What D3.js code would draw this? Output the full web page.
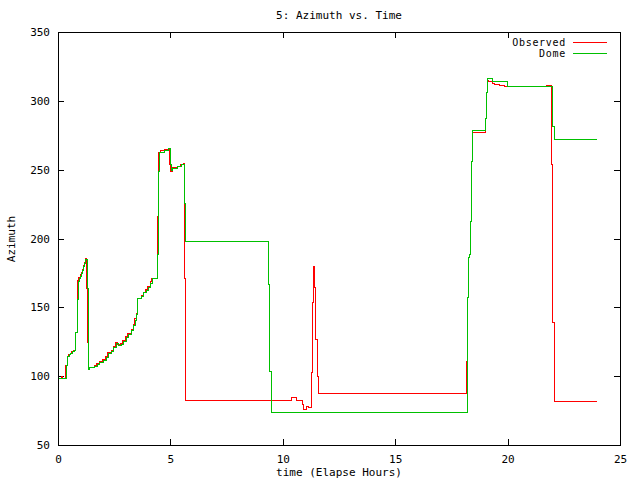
<!DOCTYPE html>
<html lang="en">
<head>
    <meta charset="UTF-8">
    <title>5: Azimuth vs. Time</title>
    <script src="https://d3js.org/d3.v7.min.js"></script>
    <style>
        body { margin: 0; background: #fff; }
        svg text { font-family: "DejaVu Sans Mono", monospace; font-size: 11px; fill: #000; }
        .axis path, .axis line { stroke: #000; shape-rendering: crispEdges; }
        .series { fill: none; stroke-width: 1; shape-rendering: crispEdges; }
        .legend text { font-size: 10px; letter-spacing: 0.7px; }
    </style>
</head>
<body>
    <svg id="chart" width="640" height="480"></svg>

    <script>
        // Observed azimuth: [elapsed hours, degrees]
        const observedSeries = [
            [0.00, 99], [0.13, 100], [0.20, 99], [0.33, 108], [0.40, 115], [0.45, 116], [0.53, 117],
            [0.60, 118], [0.68, 119], [0.75, 132], [0.83, 156], [0.86, 170], [0.91, 172], [0.96, 174],
            [1.01, 176], [1.06, 178], [1.11, 181], [1.16, 183], [1.20, 186], [1.26, 164], [1.31, 125],
            [1.33, 105], [1.38, 107], [1.60, 108], [1.70, 109.5], [1.82, 110.8], [1.97, 112.3],
            [2.10, 114.5], [2.19, 117.5], [2.34, 119.3], [2.44, 121.8], [2.55, 124.8], [2.63, 123.3],
            [2.78, 124], [2.86, 126.5], [3.00, 129], [3.08, 131.3], [3.23, 134.5], [3.33, 138],
            [3.40, 142], [3.45, 146], [3.50, 157], [3.67, 159], [3.78, 161.5], [3.89, 163.5],
            [3.98, 165.8], [4.08, 168.8], [4.15, 171.5], [4.39, 216.4], [4.43, 262.8], [4.55, 264],
            [4.72, 265.1], [4.91, 266], [4.95, 253.8], [4.99, 249], [5.05, 251.9], [5.30, 252.8],
            [5.42, 254.3], [5.55, 255], [5.62, 171], [5.66, 82.8], [10.35, 84.8], [10.57, 82.8],
            [10.87, 79.9], [10.91, 76.3], [11.03, 78], [11.14, 77.5], [11.27, 102.9], [11.31, 153.6],
            [11.36, 180.1], [11.39, 164.5], [11.43, 127], [11.51, 100.4], [11.55, 87.5],
            [18.16, 111.3], [18.20, 157.3], [18.24, 186.3], [18.29, 188.6], [18.33, 212.8],
            [18.38, 256.2], [18.42, 277.6], [19.00, 287.7], [19.04, 306.5], [19.07, 316.7],
            [19.10, 315.4], [19.14, 314.1], [19.30, 313], [19.40, 312.3], [19.60, 311.6],
            [19.85, 311], [21.71, 311.8], [21.93, 253.8], [21.99, 139.1], [22.05, 81.9], [23.96, 81.9]
        ];

        // Dome azimuth: [elapsed hours, degrees]
        const domeSeries = [
            [0.00, 99], [0.34, 108], [0.41, 115], [0.47, 116], [0.55, 117], [0.62, 118], [0.70, 119],
            [0.76, 132], [0.84, 156], [0.87, 169], [0.92, 171], [0.97, 173], [1.02, 175], [1.07, 177],
            [1.12, 180], [1.17, 182], [1.22, 185], [1.27, 164], [1.32, 125], [1.34, 105], [1.39, 106.5],
            [1.62, 107.2], [1.72, 109], [1.84, 110], [1.99, 111.6], [2.12, 113.8], [2.21, 117],
            [2.36, 118.6], [2.46, 121], [2.58, 124], [2.65, 122.7], [2.80, 123.4], [2.88, 125.8],
            [3.02, 128.3], [3.10, 130.6], [3.25, 133.8], [3.35, 137], [3.42, 141], [3.47, 145],
            [3.52, 156.5], [3.69, 158.4], [3.80, 160.9], [3.91, 162.8], [4.00, 165], [4.10, 168],
            [4.17, 171], [4.39, 188.6], [4.43, 221.7], [4.46, 249], [4.50, 262.8], [4.72, 264],
            [4.91, 265.5], [4.97, 254], [5.01, 250], [5.05, 251.4], [5.30, 252.5], [5.45, 253.8],
            [5.62, 226], [5.65, 198.3], [9.36, 167], [9.40, 104.1], [9.46, 74], [18.18, 101.7],
            [18.21, 157.3], [18.25, 186.3], [18.30, 188.6], [18.34, 212.8], [18.39, 256.2],
            [18.43, 278.5], [19.01, 287.7], [19.05, 306.5], [19.08, 316.7], [19.29, 314.1],
            [19.99, 311], [21.96, 301], [21.99, 282], [22.05, 272.5], [23.96, 272.5]
        ];

        const xTicks = [0, 5, 10, 15, 20, 25];
        const yTicks = [50, 100, 150, 200, 250, 300, 350];
        const seriesNames = ["Observed", "Dome"];
        const seriesColors = ["#ff0000", "#00c000"];

        const plot = { left: 58, right: 620, top: 32, bottom: 445 };

        const svg = d3.select("#chart");

        const x = d3.scaleLinear().domain([0, 25]).range([plot.left, plot.right]);
        const y = d3.scaleLinear().domain([50, 350]).range([plot.bottom, plot.top]);

        // axes, ticks pointing inward on all four sides (gnuplot style)
        svg.append("g")
            .attr("class", "axis")
            .attr("transform", `translate(0,${plot.bottom})`)
            .call(d3.axisBottom(x).tickValues(xTicks).tickSizeInner(-6).tickSizeOuter(0).tickPadding(10));

        svg.append("g")
            .attr("class", "axis")
            .attr("transform", `translate(0,${plot.top})`)
            .call(d3.axisTop(x).tickValues(xTicks).tickSizeInner(-6).tickSizeOuter(0).tickFormat(""));

        svg.append("g")
            .attr("class", "axis")
            .attr("transform", `translate(${plot.left},0)`)
            .call(d3.axisLeft(y).tickValues(yTicks).tickSizeInner(-6).tickSizeOuter(0).tickPadding(8));

        svg.append("g")
            .attr("class", "axis")
            .attr("transform", `translate(${plot.right},0)`)
            .call(d3.axisRight(y).tickValues(yTicks).tickSizeInner(-6).tickSizeOuter(0).tickFormat(""));

        svg.selectAll(".axis text")
            .style("font-family", '"DejaVu Sans Mono", monospace')
            .style("font-size", "11px");

        // series lines
        const line = d3.line()
            .x(d => x(d[0]))
            .y(d => y(d[1]))
            .curve(d3.curveStepAfter);

        const lines = svg.append("g").attr("transform", "translate(0.5,0.5)");
        [observedSeries, domeSeries].forEach((s, i) => {
            lines.append("path")
                .attr("class", "series")
                .attr("stroke", seriesColors[i])
                .attr("d", line(s));
        });

        // title and axis labels
        svg.append("text")
            .attr("x", 339)
            .attr("y", 19)
            .attr("text-anchor", "middle")
            .text("5: Azimuth vs. Time");

        svg.append("text")
            .attr("x", 339)
            .attr("y", 476)
            .attr("text-anchor", "middle")
            .text("time (Elapse Hours)");

        svg.append("text")
            .attr("transform", "translate(15,239) rotate(-90)")
            .attr("text-anchor", "middle")
            .text("Azimuth");

        // legend
        const legend = svg.append("g").attr("class", "legend");
        seriesNames.forEach((name, i) => {
            const ly = 42.5 + i * 11;
            legend.append("text")
                .attr("x", 566)
                .attr("y", ly)
                .attr("dy", "0.35em")
                .attr("text-anchor", "end")
                .text(name);
            legend.append("line")
                .attr("x1", 573)
                .attr("x2", 607)
                .attr("y1", ly)
                .attr("y2", ly)
                .attr("stroke", seriesColors[i])
                .attr("stroke-width", 1)
                .style("shape-rendering", "crispEdges");
        });
    </script>
</body>
</html>
